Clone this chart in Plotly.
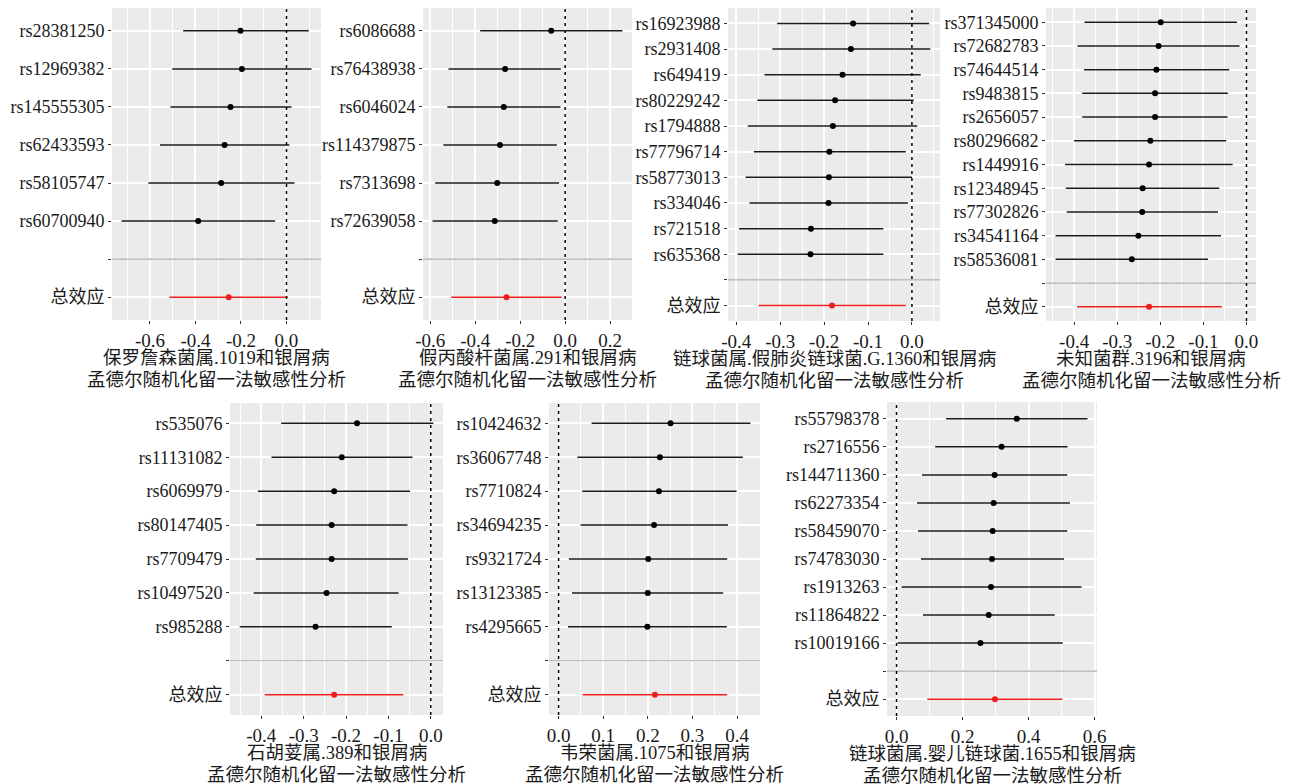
import plotly.graph_objects as go

# the page body has an 8px margin, so the figure is placed at (8, 8)
OFF = 8
W, H = 1297 - OFF, 784 - OFF
FONT = "Liberation Serif, Noto Sans CJK SC, serif"
TOTAL_LABEL = "总效应"
SEP_LABEL = " "
SUBTITLE = "孟德尔随机化留一法敏感性分析"

# ---------------- data (top-to-bottom SNP order) ----------------
p1_snps = ["rs28381250", "rs12969382", "rs145555305", "rs62433593", "rs58105747", "rs60700940"]
p1_b = [-0.202, -0.196, -0.246, -0.272, -0.287, -0.388]
p1_lo = [-0.454, -0.502, -0.510, -0.556, -0.607, -0.725]
p1_hi = [0.098, 0.110, 0.022, 0.013, 0.035, -0.050]
p1_total = [-0.254, -0.515, 0.006]
p1_title = "保罗詹森菌属.1019和银屑病"
p1_ticks = [-0.6, -0.4, -0.2, 0.0]

p2_snps = ["rs6086688", "rs76438938", "rs6046024", "rs114379875", "rs7313698", "rs72639058"]
p2_b = [-0.062, -0.267, -0.273, -0.290, -0.302, -0.313]
p2_lo = [-0.378, -0.519, -0.524, -0.542, -0.578, -0.590]
p2_hi = [0.255, -0.019, -0.021, -0.037, -0.027, -0.033]
p2_total = [-0.261, -0.507, -0.015]
p2_title = "假丙酸杆菌属.291和银屑病"
p2_ticks = [-0.6, -0.4, -0.2, 0.0, 0.2]

p3_snps = ["rs16923988", "rs2931408", "rs649419", "rs80229242", "rs1794888", "rs77796714",
           "rs58773013", "rs334046", "rs721518", "rs635368"]
p3_b = [-0.134, -0.139, -0.158, -0.175, -0.180, -0.188, -0.189, -0.190, -0.230, -0.231]
p3_lo = [-0.307, -0.318, -0.336, -0.352, -0.374, -0.360, -0.379, -0.370, -0.394, -0.397]
p3_hi = [0.039, 0.042, 0.020, 0.004, 0.012, -0.014, 0.000, -0.009, -0.065, -0.065]
p3_total = [-0.182, -0.349, -0.014]
p3_title = "链球菌属.假肺炎链球菌.G.1360和银屑病"
p3_ticks = [-0.4, -0.3, -0.2, -0.1, 0.0]

p4_snps = ["rs371345000", "rs72682783", "rs74644514", "rs9483815", "rs2656057", "rs80296682",
           "rs1449916", "rs12348945", "rs77302826", "rs34541164", "rs58536081"]
p4_b = [-0.199, -0.204, -0.209, -0.212, -0.212, -0.223, -0.226, -0.241, -0.242, -0.251, -0.266]
p4_lo = [-0.376, -0.392, -0.377, -0.381, -0.381, -0.400, -0.421, -0.419, -0.417, -0.443, -0.443]
p4_hi = [-0.022, -0.016, -0.040, -0.043, -0.044, -0.047, -0.032, -0.063, -0.066, -0.059, -0.089]
p4_total = [-0.226, -0.393, -0.057]
p4_title = "未知菌群.3196和银屑病"
p4_ticks = [-0.4, -0.3, -0.2, -0.1, 0.0]

p5_snps = ["rs535076", "rs11131082", "rs6069979", "rs80147405", "rs7709479", "rs10497520", "rs985288"]
p5_b = [-0.174, -0.210, -0.228, -0.234, -0.234, -0.246, -0.272]
p5_lo = [-0.353, -0.376, -0.408, -0.412, -0.413, -0.418, -0.451]
p5_hi = [0.006, -0.043, -0.049, -0.055, -0.054, -0.076, -0.092]
p5_total = [-0.228, -0.392, -0.065]
p5_title = "石胡荽属.389和银屑病"
p5_ticks = [-0.4, -0.3, -0.2, -0.1, 0.0]

p6_snps = ["rs10424632", "rs36067748", "rs7710824", "rs34694235", "rs9321724", "rs13123385", "rs4295665"]
p6_b = [0.251, 0.227, 0.225, 0.214, 0.201, 0.200, 0.199]
p6_lo = [0.074, 0.042, 0.053, 0.049, 0.023, 0.030, 0.021]
p6_hi = [0.430, 0.413, 0.399, 0.380, 0.378, 0.369, 0.377]
p6_total = [0.216, 0.054, 0.378]
p6_title = "韦荣菌属.1075和银屑病"
p6_ticks = [0.0, 0.1, 0.2, 0.3, 0.4]

p7_snps = ["rs55798378", "rs2716556", "rs144711360", "rs62273354", "rs58459070", "rs74783030",
           "rs1913263", "rs11864822", "rs10019166"]
p7_b = [0.364, 0.318, 0.297, 0.294, 0.291, 0.289, 0.286, 0.279, 0.254]
p7_lo = [0.150, 0.117, 0.077, 0.062, 0.065, 0.074, 0.015, 0.080, 0.003]
p7_hi = [0.578, 0.518, 0.517, 0.525, 0.517, 0.507, 0.560, 0.479, 0.503]
p7_total = [0.298, 0.093, 0.502]
p7_title = "链球菌属.婴儿链球菌.1655和银屑病"
p7_ticks = [0.0, 0.2, 0.4, 0.6]

panels = [
    (p1_snps, p1_b, p1_lo, p1_hi, p1_total, p1_title, p1_ticks),
    (p2_snps, p2_b, p2_lo, p2_hi, p2_total, p2_title, p2_ticks),
    (p3_snps, p3_b, p3_lo, p3_hi, p3_total, p3_title, p3_ticks),
    (p4_snps, p4_b, p4_lo, p4_hi, p4_total, p4_title, p4_ticks),
    (p5_snps, p5_b, p5_lo, p5_hi, p5_total, p5_title, p5_ticks),
    (p6_snps, p6_b, p6_lo, p6_hi, p6_total, p6_title, p6_ticks),
    (p7_snps, p7_b, p7_lo, p7_hi, p7_total, p7_title, p7_ticks),
]

# panel plot-area boxes in window pixels: left, right, top, bottom
boxes = [
    (112, 321, 8, 320),
    (423, 632, 8, 320),
    (728, 940, 8, 321),
    (1046, 1256, 8, 321),
    (230, 443, 403, 715),
    (549, 760, 403, 715),
    (887, 1097, 402, 716),
]


def px(x):
    return (x - OFF) / W


def py(y):
    return 1 - (y - OFF) / H


fig = go.Figure()
layout = dict(
    width=W, height=H, margin=dict(l=0, r=0, t=0, b=0, autoexpand=False),
    paper_bgcolor="white", plot_bgcolor="#EBEBEB", showlegend=False,
    font=dict(family=FONT, size=18, color="#1a1a1a"),
)
annotations = []
shapes = []

for i, ((snps, b, lo, hi, tot, title, ticks), (L, R, T, B)) in enumerate(zip(panels, boxes), start=1):
    xa = "x" if i == 1 else f"x{i}"
    ya = "y" if i == 1 else f"y{i}"
    cats = [TOTAL_LABEL, SEP_LABEL] + snps[::-1]
    # ggplot-like range: include 0 (vline) and expand 5%
    dmin = min(min(lo), tot[1], 0.0)
    dmax = max(max(hi), tot[2], 0.0)
    pad = (dmax - dmin) * 0.05
    xr = [dmin - pad, dmax + pad]
    step = ticks[1] - ticks[0]

    # separator line at blank category
    fig.add_trace(go.Scatter(x=xr, y=[SEP_LABEL, SEP_LABEL], mode="lines",
                             line=dict(color="#A8A8A8", width=1.2),
                             xaxis=xa, yaxis=ya, hoverinfo="skip", cliponaxis=True))
    # SNP estimates with CIs
    fig.add_trace(go.Scatter(
        x=b, y=snps, mode="markers", xaxis=xa, yaxis=ya,
        marker=dict(color="black", size=6),
        error_x=dict(type="data", symmetric=False,
                     array=[h - v for h, v in zip(hi, b)],
                     arrayminus=[v - l for v, l in zip(b, lo)],
                     width=0, thickness=1.5, color="#1a1a1a"),
    ))
    # total effect
    fig.add_trace(go.Scatter(
        x=[tot[0]], y=[TOTAL_LABEL], mode="markers", xaxis=xa, yaxis=ya,
        marker=dict(color="#F21D1D", size=6),
        error_x=dict(type="data", symmetric=False,
                     array=[tot[2] - tot[0]], arrayminus=[tot[0] - tot[1]],
                     width=0, thickness=1.5, color="#F21D1D"),
    ))

    ticktext = [f"{t:.1f}" for t in ticks]
    layout["xaxis" if i == 1 else f"xaxis{i}"] = dict(
        domain=[px(L), px(R)], anchor=ya, range=xr, automargin=False,
        tickmode="array", tickvals=ticks, ticktext=ticktext,
        showgrid=True, gridcolor="white", gridwidth=2, zeroline=False,
        ticks="outside", ticklen=3, tickwidth=1, tickcolor="#333333",
        tickfont=dict(size=19, family=FONT, color="#1a1a1a"),
        minor=dict(tick0=0, dtick=step / 2, showgrid=True, gridcolor="white", gridwidth=1),
        showline=False, fixedrange=True,
    )
    layout["yaxis" if i == 1 else f"yaxis{i}"] = dict(
        domain=[py(B), py(T)], anchor=xa, automargin=False,
        type="category", categoryorder="array", categoryarray=cats,
        range=[-0.6, len(cats) - 1 + 0.6],
        showgrid=True, gridcolor="white", gridwidth=2, zeroline=False,
        ticks="outside", ticklen=3, tickwidth=1, tickcolor="#333333",
        tickfont=dict(size=18, family=FONT, color="#1a1a1a"),
        showline=False, fixedrange=True,
    )
    # dotted zero line
    shapes.append(dict(type="line", xref=xa, yref=f"{ya} domain", x0=0, x1=0, y0=0, y1=1,
                       line=dict(color="black", width=1.5, dash="3px,4px"), layer="above"))
    cx = px((L + R) / 2)
    annotations.append(dict(text=title, x=cx, y=py(B + 38), xref="paper", yref="paper",
                            showarrow=False, xanchor="center", yanchor="middle",
                            font=dict(size=18.5, family=FONT, color="#1a1a1a")))
    annotations.append(dict(text=SUBTITLE, x=cx, y=py(B + 60), xref="paper", yref="paper",
                            showarrow=False, xanchor="center", yanchor="middle",
                            font=dict(size=18.5, family=FONT, color="#1a1a1a")))

layout["annotations"] = annotations
layout["shapes"] = shapes
fig.update_layout(**layout)
fig.write_html("out.html")
